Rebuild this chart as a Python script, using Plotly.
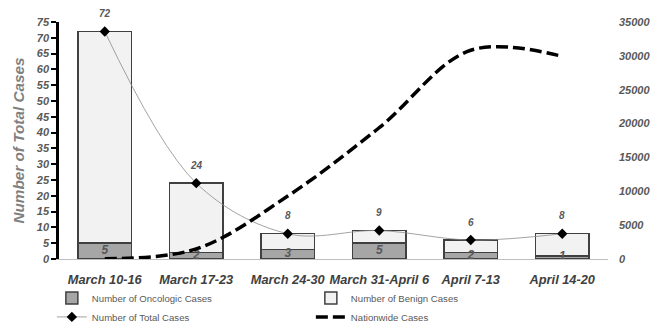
import plotly.graph_objects as go

categories = ["March 10-16", "March 17-23", "March 24-30", "March 31-April 6", "April 7-13", "April 14-20"]
oncologic = [5, 2, 3, 5, 2, 1]
benign = [67, 22, 5, 4, 4, 7]
total = [72, 24, 8, 9, 6, 8]
nationwide = [47, 1482, 9298, 19390, 30832, 29931]

FONT = "Liberation Sans, Arial, sans-serif"
GRAY = "#595959"

fig = go.Figure()
fig.add_trace(go.Bar(
    x=categories, y=oncologic, name="Number of Oncologic Cases",
    marker=dict(color="#a6a6a6", line=dict(color="#404040", width=1.5)),
))
fig.add_trace(go.Bar(
    x=categories, y=benign, name="Number of Benign Cases",
    marker=dict(color="#f2f2f2", line=dict(color="#404040", width=1.5)),
))
# labels inside oncologic segment
fig.add_trace(go.Scatter(
    x=categories, y=[v / 2 for v in oncologic], mode="text",
    text=[str(v) for v in oncologic], textposition="middle center",
    textfont=dict(family=FONT, size=12, color=GRAY, style="italic", weight="bold"),
    showlegend=False, hoverinfo="skip", cliponaxis=False,
))
fig.add_trace(go.Scatter(
    x=categories, y=total, name="Number of Total Cases",
    mode="lines+markers", line=dict(color="#8c8c8c", width=0.8, shape="spline", smoothing=1),
    marker=dict(symbol="diamond", size=8, color="black"),
    cliponaxis=False,
))
# value labels above the total markers
for c, v in zip(categories, total):
    fig.add_annotation(
        x=c, y=v, text=str(v), showarrow=False, yshift=18,
        font=dict(family=FONT, size=10, color=GRAY, style="italic", weight="bold"),
    )
fig.add_trace(go.Scatter(
    x=categories, y=nationwide, name="Nationwide Cases", yaxis="y2",
    mode="lines", line=dict(color="black", width=3.5, dash="12px,5px", shape="spline", smoothing=1),
    cliponaxis=False,
))

tickfont = dict(family=FONT, size=11, color=GRAY, style="italic", weight="bold")
fig.update_layout(
    width=652, height=325,
    margin=dict(l=59, r=44, t=22, b=66, autoexpand=False),
    paper_bgcolor="white", plot_bgcolor="white",
    barmode="stack", bargap=0.41,
    font=dict(family=FONT),
    xaxis=dict(
        type="category", showgrid=False, showline=True, linecolor="#bfbfbf", linewidth=1,
        tickfont=dict(family=FONT, size=12.8, color="#404040", style="italic", weight="bold"),
        ticks="", zeroline=False, automargin=False, ticklabelstandoff=9,
    ),
    yaxis=dict(
        range=[0, 75], dtick=5, showgrid=False, zeroline=False,
        showline=True, linecolor="black", linewidth=2.5,
        ticks="outside", ticklen=5, tickwidth=1.5, tickcolor="black",
        tickfont=tickfont, automargin=False,
        title=dict(text="Number of Total Cases", standoff=8,
                   font=dict(family=FONT, size=15.3, color="#7f7f7f", style="italic", weight="bold")),
    ),
    yaxis2=dict(
        range=[0, 35000], dtick=5000, overlaying="y", side="right",
        showgrid=False, zeroline=False, showline=False, ticks="",
        tickfont=tickfont, ticklabelstandoff=10, tickformat="d", automargin=False,
    ),
    legend=dict(
        orientation="h", x=-0.013, xanchor="left", y=-0.103, yanchor="top",
        entrywidth=214, font=dict(family=FONT, size=9.6, color=GRAY),
        traceorder="normal", bgcolor="rgba(0,0,0,0)",
    ),
    showlegend=True,
)

fig.write_html("out.html", config={"displayModeBar": False},
               post_script="document.body.style.margin='0';document.body.style.overflow='hidden';")
